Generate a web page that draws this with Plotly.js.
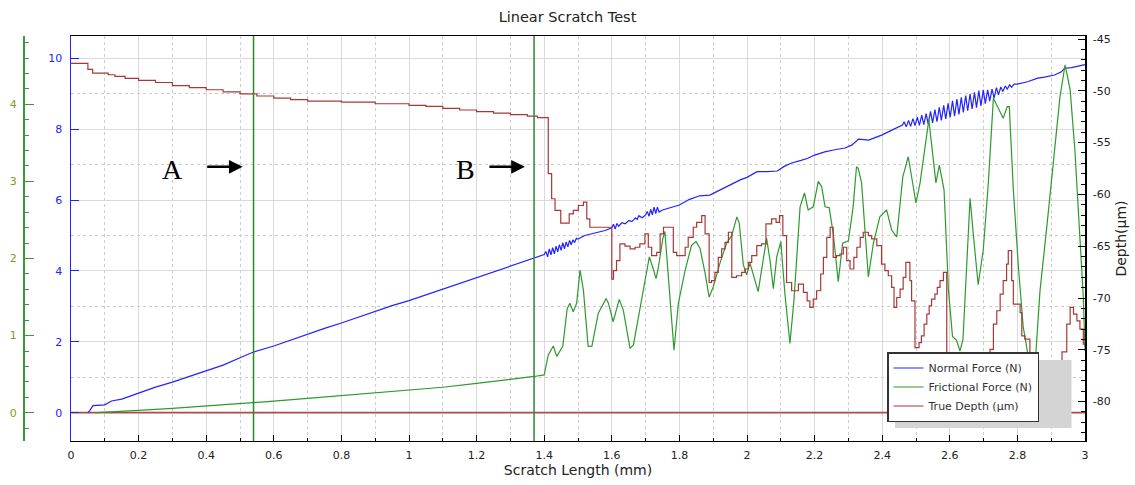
<!DOCTYPE html>
<html><head><meta charset="utf-8">
<script src="https://cdn.plot.ly/plotly-3.0.1.min.js"></script>
<style>html,body{margin:0;padding:0;background:#fff}</style>
</head><body><div id="chart" style="width:1135px;height:485px"></div>
<script>
const seriesNames = ['Normal Force (N)', 'Frictional Force (N)', 'True Depth (µm)'];
// [scratch length mm, normal force N]
const normalForce = [[0.05,0],[0.055,0.05],[0.065,0.2],[0.1,0.22],[0.12,0.33],[0.15,0.38],[0.2,0.55],[0.25,0.72],[0.3,0.86],[0.35,1.02],[0.4,1.18],[0.45,1.34],[0.5,1.55],[0.54,1.71],[0.6,1.88],[0.65,2.05],[0.7,2.22],[0.75,2.38],[0.8,2.53],[0.85,2.70],[0.9,2.86],[0.95,3.02],[1.0,3.16],[1.05,3.32],[1.1,3.48],[1.15,3.64],[1.2,3.80],[1.25,3.96],[1.3,4.12],[1.35,4.30],[1.38,4.38],[1.40,4.46],
[1.405,4.55],[1.41,4.40],[1.415,4.62],[1.42,4.45],[1.425,4.66],[1.43,4.48],[1.435,4.70],[1.44,4.54],[1.445,4.74],[1.45,4.58],[1.455,4.80],[1.46,4.62],[1.465,4.82],[1.47,4.68],[1.475,4.86],[1.48,4.74],[1.485,4.88],[1.49,4.80],[1.495,4.92],[1.50,4.90],
[1.52,5.00],[1.55,5.06],[1.58,5.14],[1.60,5.22],[1.605,5.32],[1.61,5.18],[1.615,5.34],[1.62,5.26],[1.63,5.36],[1.64,5.33],[1.65,5.42],[1.66,5.40],[1.67,5.50],[1.675,5.45],[1.68,5.56],[1.69,5.50],[1.70,5.58],[1.705,5.68],[1.71,5.54],[1.715,5.74],[1.72,5.58],[1.725,5.80],[1.73,5.62],[1.735,5.80],[1.74,5.66],[1.75,5.72],[1.78,5.80],[1.80,5.86],[1.83,6.02],[1.86,6.12],[1.89,6.14],[1.93,6.33],[1.96,6.46],[1.98,6.57],[2.00,6.64],[2.03,6.80],[2.06,6.80],[2.09,6.82],[2.11,6.95],[2.13,7.04],[2.16,7.12],[2.18,7.18],[2.20,7.27],[2.23,7.36],[2.26,7.42],[2.29,7.47],[2.31,7.55],[2.33,7.72],[2.36,7.69],[2.38,7.76],[2.40,7.84],[2.43,7.98],[2.46,8.12],
[2.465,8.21],[2.471,8.065],[2.478,8.25],[2.484,8.08],[2.491,8.30],[2.497,8.10],[2.504,8.34],[2.510,8.11],[2.517,8.40],[2.523,8.13],[2.530,8.44],[2.536,8.15],[2.543,8.50],[2.549,8.18],[2.556,8.55],[2.562,8.21],[2.569,8.62],[2.575,8.25],[2.582,8.67],[2.588,8.29],[2.595,8.73],[2.601,8.33],[2.608,8.80],[2.614,8.37],[2.621,8.85],[2.627,8.42],[2.634,8.90],[2.640,8.47],[2.647,8.95],[2.653,8.52],[2.660,9.00],[2.666,8.57],[2.673,9.04],[2.679,8.61],[2.686,9.09],[2.692,8.66],[2.699,9.11],[2.705,8.72],[2.712,9.11],[2.718,8.79],[2.725,9.13],[2.731,8.88],[2.738,9.17],[2.744,8.97],[2.751,9.19],[2.757,9.06],[2.764,9.22],[2.770,9.13],[2.777,9.25],[2.783,9.18],[2.790,9.27],[2.80,9.27],
[2.83,9.34],[2.86,9.44],[2.88,9.47],[2.91,9.53],[2.93,9.62],[2.94,9.72],[2.96,9.74],[2.975,9.78],[2.99,9.80],[3.0,9.82]];
// [scratch length mm, frictional force N]
const frictionalForce = [[0.075,0],[0.1,0.005],[0.2,0.03],[0.3,0.055],[0.4,0.085],[0.5,0.115],[0.54,0.13],[0.6,0.15],[0.7,0.185],[0.8,0.22],[0.9,0.255],[1.0,0.29],[1.1,0.33],[1.2,0.38],[1.3,0.43],[1.37,0.47],[1.40,0.49],
[1.412,0.75],[1.427,0.865],[1.437,0.73],[1.455,0.86],[1.468,1.35],[1.476,1.42],[1.486,1.31],[1.496,1.42],[1.506,1.85],[1.516,1.59],[1.530,0.86],[1.541,0.86],[1.560,1.29],[1.583,1.48],[1.590,1.42],[1.604,1.18],[1.622,1.47],[1.634,1.33],[1.654,0.835],[1.664,0.88],[1.688,1.46],[1.711,2.02],[1.721,1.89],[1.731,1.74],[1.738,1.89],[1.751,2.26],[1.757,2.35],[1.770,1.55],[1.784,0.81],[1.797,1.42],[1.817,1.85],[1.836,2.17],[1.849,2.22],[1.861,2.13],[1.876,1.81],[1.888,1.50],[1.900,1.63],[1.920,1.94],[1.940,2.20],[1.955,2.30],[1.970,2.54],[1.977,2.46],[1.989,1.92],[1.999,1.79],[2.009,1.94],[2.033,1.57],[2.048,2.0],[2.058,2.26],[2.068,1.98],[2.078,1.61],[2.088,2.02],[2.100,2.22],[2.112,1.55],[2.127,0.90],[2.139,1.46],[2.157,2.67],[2.170,2.85],[2.181,2.63],[2.196,2.67],[2.211,3.0],[2.221,2.93],[2.231,2.67],[2.243,2.66],[2.255,2.33],[2.270,1.70],[2.283,2.20],[2.300,2.23],[2.314,2.67],[2.324,3.19],[2.329,3.17],[2.339,2.98],[2.349,2.37],[2.359,1.76],[2.374,2.20],[2.393,2.54],[2.413,2.63],[2.428,2.37],[2.443,2.28],[2.461,3.06],[2.477,3.32],[2.487,3.06],[2.500,2.72],[2.512,2.98],[2.527,3.49],[2.538,3.80],[2.546,3.49],[2.559,2.98],[2.569,3.21],[2.583,2.89],[2.596,1.59],[2.608,0.99],[2.620,0.94],[2.630,0.80],[2.639,0.95],[2.648,1.80],[2.660,2.78],[2.672,2.2],[2.684,1.66],[2.699,2.11],[2.714,2.98],[2.729,4.08],[2.743,3.95],[2.758,3.82],[2.770,3.97],[2.776,3.97],[2.788,2.89],[2.803,1.89],[2.817,1.12],[2.832,0.70],[2.843,0.45],[2.852,0.60],[2.867,1.59],[2.887,2.41],[2.906,3.28],[2.926,4.10],[2.941,4.51],[2.956,4.19],[2.970,3.41],[2.985,2.28],[2.995,1.5],[3.0,0.8]];
// [scratch length mm, true depth µm] (stepped)
const trueDepth = [[0,-47.35],[0.05,-47.93],[0.064,-48.29],[0.11,-48.45],[0.13,-48.6],[0.16,-48.8],[0.2,-49.0],[0.25,-49.2],[0.3,-49.5],[0.35,-49.7],[0.4,-49.9],[0.45,-50.1],[0.5,-50.3],[0.55,-50.5],[0.6,-50.7],[0.65,-50.85],[0.7,-51.0],[0.8,-51.1],[0.9,-51.25],[1.0,-51.4],[1.05,-51.5],[1.1,-51.7],[1.15,-51.85],[1.2,-52.0],[1.25,-52.15],[1.3,-52.3],[1.35,-52.45],[1.38,-52.58],
[1.412,-58.0],[1.422,-60.42],[1.432,-61.55],[1.449,-62.78],[1.474,-61.87],[1.486,-61.55],[1.501,-61.07],[1.516,-60.75],[1.526,-62.36],[1.535,-63.17],[1.600,-68.17],[1.605,-67.36],[1.614,-66.39],[1.624,-64.78],[1.639,-65.0],[1.654,-65.26],[1.669,-65.1],[1.683,-64.78],[1.698,-63.81],[1.708,-65.1],[1.718,-65.91],[1.733,-65.59],[1.743,-63.81],[1.753,-63.17],[1.782,-65.59],[1.792,-65.91],[1.817,-65.1],[1.826,-64.14],[1.841,-63.17],[1.851,-62.69],[1.866,-62.04],[1.876,-63.81],[1.888,-68.5],[1.895,-68.33],[1.905,-67.53],[1.915,-66.07],[1.925,-65.26],[1.935,-64.62],[1.945,-63.65],[1.955,-68.01],[1.969,-67.85],[1.984,-67.53],[1.994,-67.2],[2.004,-66.56],[2.014,-65.91],[2.029,-64.94],[2.043,-64.78],[2.056,-62.85],[2.073,-62.36],[2.086,-62.69],[2.096,-62.04],[2.106,-63.97],[2.117,-68.5],[2.132,-69.3],[2.152,-68.65],[2.167,-69.46],[2.178,-70.27],[2.186,-70.91],[2.196,-70.1],[2.206,-69.3],[2.218,-67.68],[2.226,-66.07],[2.236,-64.14],[2.246,-63.17],[2.255,-66.07],[2.265,-65.91],[2.275,-65.75],[2.285,-65.1],[2.295,-66.39],[2.305,-67.2],[2.316,-66.07],[2.325,-65.1],[2.335,-64.14],[2.344,-63.65],[2.359,-63.97],[2.369,-64.3],[2.384,-64.94],[2.398,-66.72],[2.408,-67.36],[2.418,-67.85],[2.428,-68.98],[2.435,-70.91],[2.443,-69.95],[2.453,-69.14],[2.462,-68.01],[2.470,-66.56],[2.482,-68.33],[2.487,-70.27],[2.497,-74.79],[2.509,-74.31],[2.516,-73.65],[2.524,-72.52],[2.532,-71.55],[2.539,-70.75],[2.546,-70.1],[2.556,-69.62],[2.563,-68.98],[2.571,-68.33],[2.581,-67.53],[2.591,-77.5],[2.719,-74.95],[2.729,-72.52],[2.739,-71.23],[2.749,-69.62],[2.758,-68.33],[2.768,-66.72],[2.773,-65.43],[2.783,-68.33],[2.788,-70.59],[2.808,-71.4],[2.813,-73.65],[2.822,-73.97],[2.837,-77.5],[2.932,-75.2],[2.946,-72.52],[2.956,-70.9],[2.966,-71.55],[2.976,-72.2],[2.985,-73.0],[2.995,-74.45],[3.0,-74.45]];
const baseline = [[0,0],[3,0]];
const markerPositions = [0.54, 1.37];
const markerLabels = ['A', 'B'];
const depthTickVals = [-80,-75,-70,-65,-60,-55,-50,-45];
const depthTickText = ['-80','-75','-70','-65','-60','-55','-50','-45'];

const BLUE = '#2222ff', GREEN = '#2e9a2e', RED = '#a83838', AXGREEN = '#3a9a3a';
const col = (a, i) => a.map(p => p[i]);
const FONT = 'DejaVu Sans, Verdana, sans-serif';

const data = [
  {x: col(baseline,0), y: col(baseline,1), type:'scatter', mode:'lines', yaxis:'y', showlegend:false, hoverinfo:'skip', line:{color:'#b04848', width:1.6}},
  {x: col(normalForce,0), y: col(normalForce,1), name: seriesNames[0], type:'scatter', mode:'lines', yaxis:'y', line:{color:BLUE, width:1.2}},
  {x: col(frictionalForce,0), y: col(frictionalForce,1), name: seriesNames[1], type:'scatter', mode:'lines', yaxis:'y2', line:{color:GREEN, width:1.2}},
  {x: col(trueDepth,0), y: col(trueDepth,1), name: seriesNames[2], type:'scatter', mode:'lines', yaxis:'y3', line:{color:RED, width:1.2, shape:'hv'}}
];

const pxL = 23, pxR = 50;
const layout = {
  width: 1135, height: 485,
  margin: {l: pxL, r: pxR, t: 36, b: 44, pad: 0},
  paper_bgcolor: '#fff', plot_bgcolor: '#fff',
  font: {family: FONT, size: 11, color: '#222'},
  title: {text: 'Linear Scratch Test', xref:'container', x: 0.5, xanchor:'center', yref:'container', y: 1 - 17/485, yanchor:'middle', font: {family: FONT, size: 14.5, color: '#222'}},
  showlegend: true,
  legend: {x: (887-pxL)/1062, y: (441-352)/405, xanchor:'left', yanchor:'top', bgcolor:'#fff', bordercolor:'#333', borderwidth:1.5, font:{family: FONT, size:11, color:'#333'}},
  xaxis: {domain: [(71-pxL)/1062, 1], range: [0, 3], tick0: 0, dtick: 0.2, ticks:'inside', ticklen: 6, tickcolor:'#000',
    showline: true, linecolor:'#000', linewidth: 1.2, mirror: true, zeroline: false,
    showgrid: true, gridcolor:'#d9d9d9', gridwidth: 1,
    minor: {dtick: 0.1, ticks:'inside', ticklen: 3, tickcolor:'#000', showgrid: true, gridcolor:'#cccccc', griddash:'dot'},
    tickfont: {family: FONT, size: 11, color:'#222'}, ticklabelstandoff: 4,
    title: {text:'Scratch Length (mm)', font:{family: FONT, size: 14, color:'#222'}, standoff: 3}},
  yaxis: {range: [-0.80, 10.63], tick0: 0, dtick: 2, ticks:'inside', ticklen: 8, tickcolor: BLUE,
    showline: true, linecolor: BLUE, linewidth: 1.5, zeroline: false,
    showgrid: true, gridcolor:'#d9d9d9',
    minor: {dtick: 1, ticks:'', showgrid: true, gridcolor:'#cccccc', griddash:'dot'},
    tickfont: {family: FONT, size: 11, color: BLUE}, ticklabelstandoff: 5},
  yaxis2: {overlaying:'y', anchor:'free', position: 0, side:'left', range: [-0.367, 4.886], tick0: 0, dtick: 1,
    ticks:'inside', ticklen: 9, tickcolor: AXGREEN, showline: true, linecolor: AXGREEN, linewidth: 1.5,
    showgrid: false, zeroline: false,
    minor: {dtick: 0.2, ticks:'inside', ticklen: 4, tickcolor: AXGREEN, showgrid: false},
    tickfont: {family: FONT, size: 11, color: '#7f9a1e'}, ticklabelstandoff: 4},
  yaxis3: {overlaying:'y', anchor:'x', side:'right', range: [-83.8, -44.71],
    tickmode:'array', tickvals: depthTickVals, ticktext: depthTickText,
    ticks:'inside', ticklen: 7, tickcolor:'#000', showline: true, linecolor:'#000', linewidth: 1.5,
    showgrid: false, zeroline: false,
    minor: {tickmode:'linear', tick0: -45, dtick: 1, ticks:'inside', ticklen: 4, tickcolor:'#000', showgrid: false},
    tickfont: {family: FONT, size: 11, color:'#222'}, ticklabelstandoff: 4,
    title: {text:'Depth(µm)', font:{family: FONT, size: 14, color:'#222'}, standoff: 6}},
  shapes: [
    {type:'rect', xref:'paper', yref:'paper', x0:(895-pxL)/1062, x1:(1071.5-pxL)/1062, y0:(441-428)/405, y1:(441-360)/405, fillcolor:'#d4d4d4', line:{width:0}, layer:'above'},
    ...markerPositions.map(p => ({type:'line', xref:'x', x0:p, x1:p, yref:'paper', y0:0, y1:1, line:{color:'#2a8a2a', width:1.5}, layer:'above'}))
  ],
  annotations: [
    {xref:'x', yref:'y', x: 0.299, y: 6.85, text: markerLabels[0], showarrow:false, font:{family:'Liberation Serif, Times New Roman, serif', size:28, color:'#000'}},
    {xref:'x', yref:'y', x: 1.168, y: 6.85, text: markerLabels[1], showarrow:false, font:{family:'Liberation Serif, Times New Roman, serif', size:28, color:'#000'}},
    {xref:'x', yref:'y', x: markerPositions[0]-0.032, y: 6.94, ax:-37, ay:0, text:'', showarrow:true, arrowhead:2, arrowsize:1.1, arrowwidth:2.5, arrowcolor:'#000'},
    {xref:'x', yref:'y', x: markerPositions[1]-0.027, y: 6.94, ax:-37, ay:0, text:'', showarrow:true, arrowhead:2, arrowsize:1.1, arrowwidth:2.5, arrowcolor:'#000'}
  ]
};
Plotly.newPlot('chart', data, layout, {displayModeBar:false, staticPlot:true});
</script></body></html>
